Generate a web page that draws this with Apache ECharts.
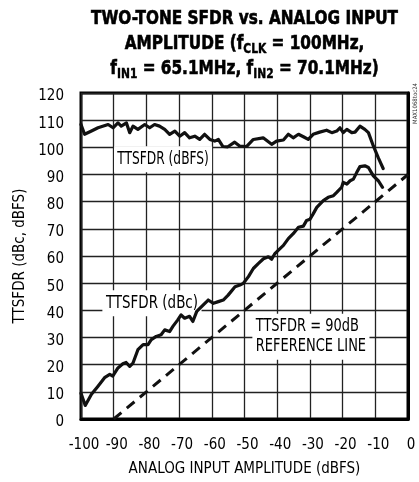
<!DOCTYPE html>
<html>
<head>
<meta charset="utf-8">
<script src="https://cdn.jsdelivr.net/npm/echarts@6/dist/echarts.min.js"></script>
<style>
  html, body { margin: 0; padding: 0; background: #fff; }
  #chart { width: 419px; height: 482px; }
</style>
</head>
<body>
<div id="chart"></div>
<script>
// Input amplitude (dBFS) and two-tone SFDR measured in dBFS
const dbfsAmplitude = [-100, -98.9, -96.8, -94.8, -91.7, -90.2, -88.7, -87.7, -86.1, -85.1,
  -84.1, -82.6, -80.5, -79, -77.5, -76, -74.4, -72.9, -71.3, -69.8, -68.3, -66.8, -65.2,
  -63.7, -62.2, -60.6, -59.1, -58, -56.6, -55.1, -53, -51.5, -49.4, -47.3, -44.3, -41.7,
  -40.2, -38.1, -36.6, -35.1, -33.5, -32, -30.5, -29, -27, -24.9, -23.3, -21.8, -20.8,
  -19.8, -18.7, -17.2, -16.2, -14.7, -13.2, -12.1, -10.6, -9.1, -7.6];
const dbfsValues = [108.4, 104.8, 106, 107.2, 108.4, 107.2, 109, 107.8, 109, 105.4,
  107.8, 106.6, 108.4, 107.2, 108.4, 107.8, 106.6, 104.8, 106, 104.1, 105.4, 103.5, 104.1,
  102.9, 104.8, 102.9, 102.3, 102.9, 100.3, 100.2, 101.9, 100.5, 100.3, 102.9, 103.5, 101.1,
  102.3, 102.7, 104.8, 103.5, 104.8, 103.9, 102.9, 104.8, 105.6, 106.3, 105.4, 106, 107.2,
  105.4, 106.6, 105.4, 105.6, 107.8, 106.6, 105.4, 100.5, 96.2, 92.2];

// Input amplitude (dBFS) and two-tone SFDR measured in dBc
const dbcAmplitude = [-100, -98.7, -96.8, -94.8, -92.8, -91.2, -90.3, -88.7, -87.2, -86.2,
  -85.1, -84.1, -82.6, -81, -79.5, -78.5, -77, -75.5, -74.4, -72.9, -71.9, -70.4, -69.4,
  -68.3, -66.8, -65.8, -64.6, -62.6, -61.1, -59.5, -58, -56.5, -55, -52.9, -51.4, -50.4,
  -48.8, -47.3, -45.8, -44.2, -42.7, -41.7, -40.7, -39.7, -38.1, -36.6, -35.1, -33.5, -32,
  -31, -30, -29, -27.9, -25.9, -24.4, -22.8, -21.8, -20.3, -19.8, -18.7, -17.7, -16.7,
  -15.7, -14.7, -13.2, -12.1, -10.6, -9.1, -7.8];
const dbcValues = [9.5, 5, 9.1, 12.1, 15.2, 16.4, 15.8, 18.8, 20.3, 20.8,
  19.4, 20.6, 25.5, 27.4, 27.4, 29.2, 30.4, 31, 32.8, 32.2, 34.1, 36.5, 38.3,
  37.1, 37.8, 35.9, 39.6, 42, 43.8, 42.6, 43.2, 43.8, 45.6, 48.7, 49.3, 49.9,
  52.4, 55.4, 57.2, 59, 59.7, 58.8, 60.9, 62.1, 63.9, 66.4, 68.2, 70.6, 71,
  73.1, 73.5, 75.5, 77.9, 80.4, 81.6, 82.2, 83.4, 85.3, 87.1, 86.5, 87.7, 88.3,
  90.7, 92.9, 93.2, 92.6, 89.5, 87.7, 85.3];

// TTSFDR = 90dB reference line end points
const referenceAmplitude = [-90, 0];
const referenceValues = [0, 90];

// Axis ranges and steps
const xRange = [-100, 0];
const yRange = [0, 120];
const tickStep = 10;

// Curve annotation texts
const annotationTexts = ['TTSFDR (dBFS)', 'TTSFDR (dBc)', 'TTSFDR = 90dB\nREFERENCE LINE'];

const zip = (xs, ys) => xs.map((x, i) => [x, ys[i]]);

const FONT = "'DejaVu Sans Condensed', 'Liberation Sans Narrow', sans-serif";

const chart = echarts.init(document.getElementById('chart'), null, { renderer: 'canvas' });

chart.setOption({
  animation: false,
  backgroundColor: '#fff',
  grid: {
    left: 81, right: 11, top: 93, bottom: 60.5,
    show: true, borderColor: '#000', borderWidth: 3, backgroundColor: 'transparent'
  },
  xAxis: {
    type: 'value',
    min: xRange[0], max: xRange[1], interval: tickStep,
    name: 'ANALOG INPUT AMPLITUDE (dBFS)',
    nameLocation: 'middle', nameGap: 43,
    nameTextStyle: { fontFamily: FONT, fontSize: 15, color: '#000' },
    axisLine: { show: true, lineStyle: { color: '#000', width: 3 } },
    axisTick: { show: false },
    axisLabel: { fontFamily: FONT, fontSize: 15, color: '#000', margin: 19, padding: [0, 0, 0, 6] },
    splitLine: { show: true, lineStyle: { color: '#222', width: 1.3 } }
  },
  yAxis: {
    type: 'value',
    min: yRange[0], max: yRange[1], interval: tickStep,
    name: 'TTSFDR (dBc, dBFS)',
    nameLocation: 'middle', nameGap: 50,
    nameTextStyle: { fontFamily: FONT, fontSize: 15, color: '#000' },
    axisLine: { show: true, lineStyle: { color: '#000', width: 3 } },
    axisTick: { show: false },
    axisLabel: {
      fontFamily: FONT, fontSize: 15, color: '#000', margin: 17,
      verticalAlign: 'top', lineHeight: 7
    },
    splitLine: { show: true, lineStyle: { color: '#222', width: 1.3 } }
  },
  series: [
    {
      name: 'TTSFDR (dBFS)',
      type: 'line',
      z: 3,
      data: zip(dbfsAmplitude, dbfsValues),
      showSymbol: false,
      lineStyle: { color: '#111', width: 3.2, join: 'round', cap: 'round' }
    },
    {
      name: 'TTSFDR (dBc)',
      type: 'line',
      z: 3,
      data: zip(dbcAmplitude, dbcValues),
      showSymbol: false,
      lineStyle: { color: '#111', width: 3.2, join: 'round', cap: 'round' }
    },
    {
      name: 'TTSFDR = 90dB REFERENCE LINE',
      type: 'line',
      z: 3,
      data: zip(referenceAmplitude, referenceValues),
      showSymbol: false,
      lineStyle: { color: '#111', width: 3, type: [10, 7] }
    }
  ]
});

// Title, annotations and the drawing number, as narrowed text
const px = (x, y) => chart.convertToPixel({ gridIndex: 0 }, [x, y]);
const noteStyle = (text, align) => ({
  text: text, font: '17px ' + FONT, fill: '#000',
  textAlign: align, textVerticalAlign: 'middle',
  backgroundColor: '#fff', padding: [3, 4, 3, 4], lineHeight: 20
});
const pDbfs = px(-74.9, 95.6);
const pDbc = px(-78.3, 42.6);
const pRef = px(-47.6, 30.3);
const plotLeft = px(xRange[0], yRange[1]);
const plotRight = px(xRange[1], yRange[1]);
const titleX = (plotLeft[0] + plotRight[0]) / 2;

chart.setOption({
  graphic: [
    {
      type: 'text', x: titleX, y: 6, scaleX: 0.85, z: 5,
      style: {
        text: '{t|TWO-TONE SFDR vs. ANALOG INPUT}\n' +
              '{t|AMPLITUDE (f}{s|CLK}{t| = 100MHz,}\n' +
              '{t|f}{s|IN1}{t| = 65.1MHz, f}{s|IN2}{t| = 70.1MHz)}',
        textAlign: 'center', textVerticalAlign: 'top',
        rich: {
          t: { fontFamily: FONT, fontWeight: 'bold', fontSize: 20, lineHeight: 25, fill: '#000', stroke: '#000', lineWidth: 0.6 },
          s: { fontFamily: FONT, fontWeight: 'bold', fontSize: 14, lineHeight: 14, fill: '#000', stroke: '#000', lineWidth: 0.4, verticalAlign: 'bottom' }
        }
      }
    },
    { type: 'text', x: pDbfs[0], y: pDbfs[1], scaleX: 0.8, z: 1, style: noteStyle(annotationTexts[0], 'center') },
    { type: 'text', x: pDbc[0], y: pDbc[1], scaleX: 0.88, z: 1, style: noteStyle(annotationTexts[1], 'center') },
    { type: 'text', x: pRef[0], y: pRef[1], scaleX: 0.85, z: 1, style: noteStyle(annotationTexts[2], 'left') },
    {
      type: 'text', x: 415, y: 124, rotation: Math.PI / 2, z: 5,
      style: { text: 'MAX1068toc24', font: '6px ' + FONT, fill: '#333', textAlign: 'left', textVerticalAlign: 'middle' }
    }
  ]
});
</script>
</body>
</html>
